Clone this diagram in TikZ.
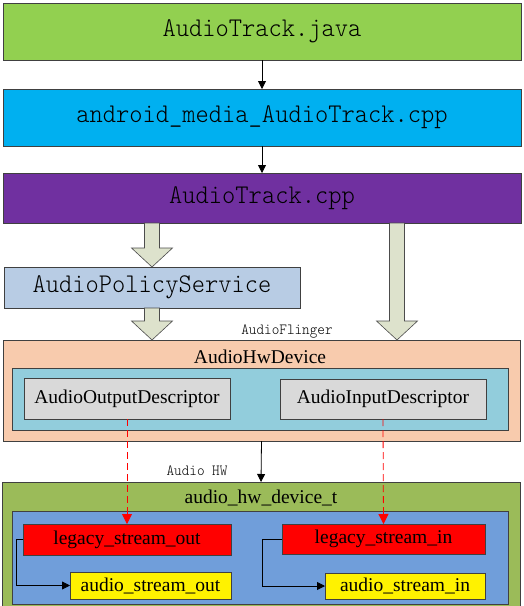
\documentclass[tikz,border=0pt]{standalone}
\usepackage{fontspec}
\setmainfont{Liberation Serif}
\newfontfamily\codefont[FakeStretch=0.935]{Latin Modern Mono Light}
\usepackage{tikz}
\usetikzlibrary{calc, arrows.meta}

\definecolor{cjava}{RGB}{146,208,80}
\definecolor{cjni}{RGB}{0,176,240}
\definecolor{ccpp}{RGB}{112,48,160}
\definecolor{cpolicy}{RGB}{184,204,228}
\definecolor{cfat}{RGB}{221,226,204}
\definecolor{cpeach}{RGB}{248,203,173}
\definecolor{caqua}{RGB}{146,205,220}
\definecolor{cdesc}{RGB}{217,217,217}
\definecolor{colive}{RGB}{155,187,89}
\definecolor{chal}{RGB}{112,158,218}

\tikzset{
    box/.style={draw=black!75, line width=0.8pt, anchor=north west, inner sep=0pt, outer sep=0pt},
    code/.style={font=\codefont\fontsize{27}{30}\selectfont},
    smallcode/.style={font=\codefont\fontsize{15.5}{18}\selectfont},
    serif/.style={font=\fontsize{19.5}{22}\selectfont},
    fatarrow/.style={fill=cfat, draw=black!70, line width=0.6pt},
    link/.style={-{Triangle[length=8pt,width=8pt]}, line width=0.8pt},
    hwlink/.style={-{Triangle[length=10pt,width=10pt]}, line width=0.8pt, red, dash pattern=on 7pt off 4pt}
}

\begin{document}
\begin{tikzpicture}[x=1pt, y=-1pt]
        \def\barrow(#1)(#2){\draw[fatarrow] let \p1=(#1), \p2=(#2) in (\x1-7.5pt,\y1) -- (\x1-7.5pt,\y2+19pt) -- (\x1-20.5pt,\y2+19pt) -- (\x2,\y2) -- (\x1+20.5pt,\y2+19pt) -- (\x1+7.5pt,\y2+19pt) -- (\x1+7.5pt,\y1) -- cycle;}
        \useasboundingbox (0,0) rectangle (524,606);
        \clip (0,0) rectangle (524,606);
        \node[box, fill=cjava, minimum width=518pt, minimum height=57pt, code] (java) at (3,3) {AudioTrack.java};
        \node[box, fill=cjni, minimum width=518pt, minimum height=57pt, code] (jni) at (3,89) {android\_media\_AudioTrack.cpp};
        \node[box, fill=ccpp, minimum width=518pt, minimum height=50pt, code] (cpp) at (3,173) {AudioTrack.cpp};
        \node[box, fill=cpolicy, minimum width=296pt, minimum height=41pt, code] (aps) at (4,267) {AudioPolicyService};
        \node[box, fill=cpeach, minimum width=517pt, minimum height=101pt] (flinger) at (3,340) {};
        \node[smallcode] (flingername) at (287,332) {AudioFlinger};
        \node[serif] (hwdevname) at (260,357) {AudioHwDevice};
        \node[box, fill=caqua, minimum width=496pt, minimum height=62pt] (hwdev) at (12,368) {};
        \node[box, fill=cdesc, minimum width=206pt, minimum height=41pt, serif] (outdesc) at (24,378) {AudioOutputDescriptor};
        \node[box, fill=cdesc, minimum width=206pt, minimum height=40pt, serif] (indesc) at (280,379) {AudioInputDescriptor};
        \node[box, fill=colive, minimum width=518pt, minimum height=140pt] (hal) at (2,482) {};
        \node[smallcode] (halname) at (197,471) {Audio HW};
        \node[serif] (halstruct) at (261,498) {audio\_hw\_device\_t};
        \node[box, fill=chal, minimum width=496pt, minimum height=93pt] (halin) at (12,511) {};
        \node[box, fill=red, minimum width=208pt, minimum height=31pt, serif] (lso) at (23,524) {legacy\_stream\_out};
        \node[box, fill=red, minimum width=203pt, minimum height=30pt, serif] (lsi) at (282,524) {legacy\_stream\_in};
        \node[box, fill=yellow, minimum width=161pt, minimum height=27pt, serif] (aso) at (70,572) {audio\_stream\_out};
        \node[box, fill=yellow, minimum width=160pt, minimum height=26pt, serif] (asi) at (325,573) {audio\_stream\_in};
        \coordinate (rcol) at (397,0);
        \draw[link] (java) -- (jni);
        \draw[link] (jni) -- (cpp);
        \barrow(cpp.south -| aps.north)(aps.north)
        \barrow(aps.south)(flinger.north -| aps.south)
        \barrow(cpp.south -| rcol)(flinger.north -| rcol)
        \draw[link] (flinger.south) -- (hal.north);
        \draw[hwlink] (outdesc.south) -- (lso.north);
        \draw[hwlink] (indesc.south) -- (lsi.north);
        \draw[link] (lso.west) -- ++(-7,0) |- (aso.west);
        \draw[link] (lsi.west) -- ++(-20,0) |- (asi.west);
    \end{tikzpicture}
\end{document}
